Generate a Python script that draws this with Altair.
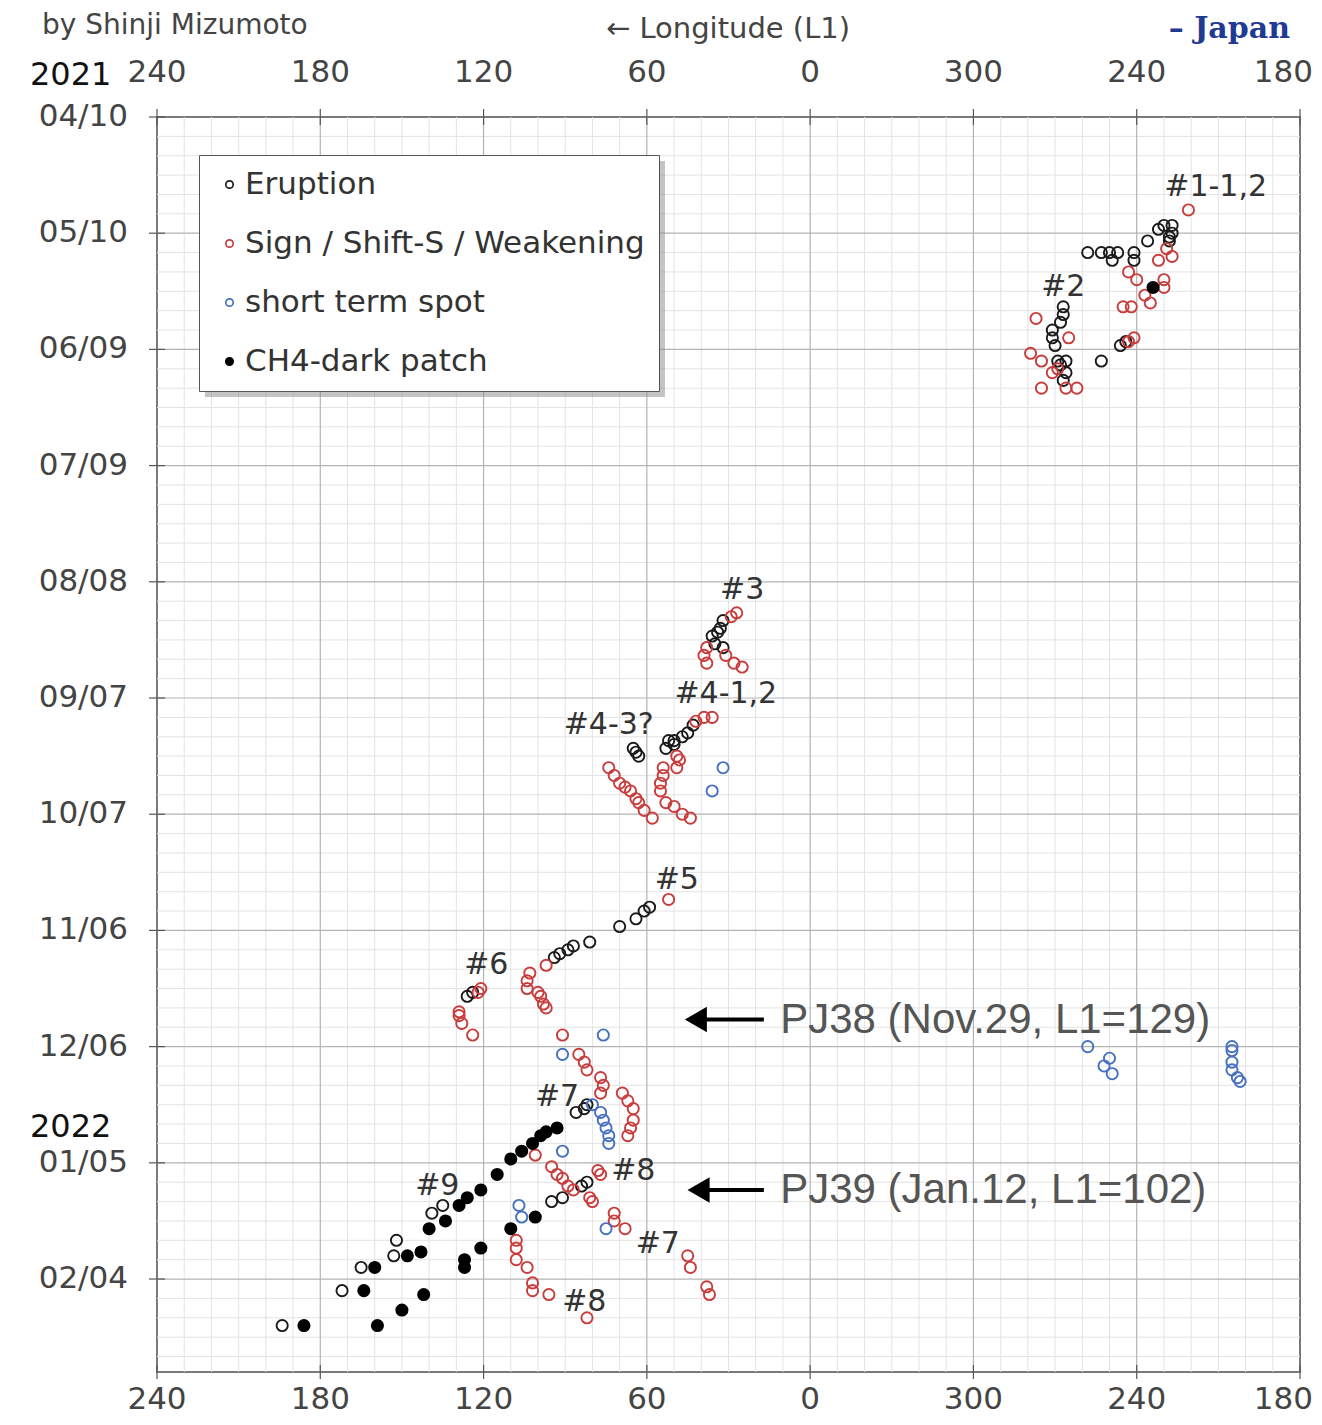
import altair as alt
import pandas as pd

# ---------------- data ----------------
# x = longitude position on the unwrapped axis (negative values are shown as value+360)
erupt_date = ["05/15","05/15","05/15","05/15","05/15","05/17","05/17","05/12","05/09","05/08",
              "05/08","05/10","05/11","05/12","06/08","06/07","06/12",
              "05/29","05/31","06/02","06/04","06/06","06/08","06/12","06/12","06/13","06/15","06/17",
              "08/18","08/20","08/21","08/22","08/24","08/25",
              "09/14","09/16","09/17","09/18","09/18","09/20","09/19",
              "09/20","09/21","09/22",
              "10/31","11/01","11/03","11/05","11/09","11/10","11/11","11/12","11/13",
              "11/23","11/22",
              "12/23","12/22","12/21",
              "01/15","01/14","01/11","01/10",
              "01/18","01/16","01/25","01/29","02/01","02/07","02/16"]
erupt_lon = [-102,-107,-110,-113,-119,-111,-119,-124,-128,-130,
             -133,-133,-132,-132,-114,-116,-107,
             -93,-93,-92,-89,-89,-90,-91,-94,-92,-94,-93,
             32,33,34,36,35,32,
             43,45,47,50,52,53,50,
             65,64,63,
             59,61,64,70,81,87,89,92,94,
             126,124,
             86,83,82,
             95,91,84,82,
             139,135,152,153,165,172,194]

sign_date = ["05/04","05/17","05/16","05/14","05/20","05/22","05/22","05/24","05/28","05/26",
             "05/29","05/29","06/06","06/07",
             "06/01","06/10","06/12","06/15","06/14","06/06","06/19","06/19","06/19",
             "08/16","08/17","08/25","08/27","08/29","08/27","08/29","08/30",
             "09/12","09/12","09/13","09/22","09/23","09/25","09/25","09/27","09/29","10/01",
             "10/04","10/05","10/07","10/08",
             "09/25","09/27","09/29","09/30","10/01","10/03","10/04","10/06","10/08",
             "10/29","11/15","11/17","11/19","11/21","11/22","11/23","11/25","11/26","12/03",
             "11/21","11/22","11/27","11/28","11/30","12/03",
             "12/08","12/10","12/12","12/14","12/16","12/18","12/18","12/20","12/22","12/25",
             "12/27","12/29",
             "01/03","01/06","01/08","01/09","01/11","01/12","01/07","01/08","01/14","01/15",
             "01/18","01/20","01/22","01/29","02/01","02/06","02/08",
             "01/25","01/27","01/30","02/01","02/05","02/07","02/08","02/14"]
sign_lon = [-139,-128,-133,-131,-117,-120,-130,-130,-125,-123,
            -115,-118,-119,-117,
            -83,-81,-85,-89,-91,-95,-85,-94,-98,
            27,29,38,39,38,31,28,25,
            36,39,42,49,48,49,54,54,55,55,
            53,50,47,44,
            74,72,70,68,66,64,63,61,58,
            52,97,103,104,104,100,99,98,97,91,
            121,122,129,129,128,124,
            85,83,82,77,76,77,69,67,65,65,
            66,67,
            101,95,93,91,89,87,78,77,81,80,
            72,72,68,45,44,38,37,
            108,108,108,104,102,102,96,82]

short_date = ["09/25","10/01","12/03","12/08","12/21","12/23","12/25","12/27","12/29","12/31",
              "01/02","01/16","01/19","01/22",
              "12/06","12/09","12/11","12/13",
              "12/06","12/07","12/10","12/12","12/14","12/15"]
short_lon = [32,36,76,91,80,77,76,75,74,74,
             91,107,106,75,
             -102,-110,-108,-111,
             -155,-155,-155,-155,-157,-158]

ch4_date = ["05/24",
            "12/27","12/28","12/29","12/31","01/02","01/04","01/08","01/12","01/14","01/16",
            "01/20","01/22","01/28","01/29","02/01","02/07","02/16","02/16","02/12","02/08",
            "01/30","02/01","01/27","01/22","01/19"]
ch4_lon = [-126,
           93,97,99,102,106,110,115,121,126,129,
           134,140,143,148,160,164,186,159,150,142,
           127,127,121,110,101]

series_names = ["Eruption", "Sign / Shift-S / Weakening", "short term spot", "CH4-dark patch"]
series_stroke = ["#1a1a1a", "#c83c3c", "#4670c0", "#000000"]
series_fill = ["transparent", "transparent", "transparent", "#000000"]

label_text = ["#1-1,2", "#2", "#3", "#4-1,2", "#4-3?", "#5", "#6", "#7", "#8", "#7", "#9", "#8"]
label_date = ["04/28", "05/24", "08/10", "09/06", "09/14", "10/24", "11/15", "12/19",
              "01/07", "01/26", "01/11", "02/10"]
label_lon = [-149, -93, 25, 31, 74, 49, 119, 93, 65, 56, 137, 83]

pj_text = ["PJ38 (Nov.29, L1=129)", "PJ39 (Jan.12, L1=102)"]
pj_date = ["11/29", "01/12"]
pj_tail = [17, 17]
pj_head = [42, 41]
pj_text_lon = [11, 11]

x_ticks = [240, 180, 120, 60, 0, -60, -120, -180]
x_tick_labels = ["240", "180", "120", "60", "0", "300", "240", "180"]
y_ticks = [0, 30, 60, 90, 120, 150, 180, 210, 240, 270, 300]
y_tick_labels = ["04/10", "05/10", "06/09", "07/09", "08/08", "09/07", "10/07",
                 "11/06", "12/06", "01/05", "02/04"]
year_text = ["2021", "2022"]
year_day = [-10.8, 260.7]


def to_day(s):
    m, d = map(int, s.split("/"))
    y = 2021 if m >= 4 else 2022
    return (pd.Timestamp(y, m, d) - pd.Timestamp(2021, 4, 10)).days


rows = []
for name, dates, lons in zip(series_names,
                             [erupt_date, sign_date, short_date, ch4_date],
                             [erupt_lon, sign_lon, short_lon, ch4_lon]):
    for d, lo in zip(dates, lons):
        rows.append({"type": name, "day": to_day(d), "x": lo})
pts = pd.DataFrame(rows)

labels_df = pd.DataFrame({"t": label_text, "day": [to_day(d) for d in label_date], "x": label_lon})
pj_df = pd.DataFrame({"t": pj_text, "day": [to_day(d) for d in pj_date],
                      "x1": pj_tail, "x2": pj_head, "xt": pj_text_lon})

minor_v = pd.DataFrame({"g": [v for v in range(-180, 241, 10) if v % 60 != 0]})
major_v = pd.DataFrame({"g": [v for v in range(-120, 240, 60)]})
minor_h = pd.DataFrame({"g": [v for v in range(5, 325, 5) if v % 30 != 0]})
major_h = pd.DataFrame({"g": [v for v in range(30, 324, 30)]})
xtick_df = pd.DataFrame({"x": x_ticks, "t": x_tick_labels})
xtick_main = xtick_df.iloc[:-1]   # centred labels
xtick_edge = xtick_df.iloc[-1:]   # right-most label, kept inside the page
ytick_df = pd.DataFrame({"day": y_ticks, "t": y_tick_labels})
year_df = pd.DataFrame({"t": year_text, "day": year_day})

W, H = 1143, 1255
FONT = "DejaVu Sans"
TICK_FS = 31
xs = alt.Scale(domain=[-180, 240], reverse=True, nice=False, zero=False)
ys = alt.Scale(domain=[0, 324], reverse=True, nice=False, zero=False)
NOX = alt.X("x:Q", scale=xs, axis=None)
NOY = alt.Y("day:Q", scale=ys, axis=None)

grid_minor_v = alt.Chart(minor_v).mark_rule(color="#e3e3e3", strokeWidth=1).encode(
    x=alt.X("g:Q", scale=xs, axis=None))
grid_minor_h = alt.Chart(minor_h).mark_rule(color="#e3e3e3", strokeWidth=1).encode(
    y=alt.Y("g:Q", scale=ys, axis=None))
grid_major_v = alt.Chart(major_v).mark_rule(color="#b3b3b3", strokeWidth=1.2).encode(
    x=alt.X("g:Q", scale=xs, axis=None))
grid_major_h = alt.Chart(major_h).mark_rule(color="#b3b3b3", strokeWidth=1.2).encode(
    y=alt.Y("g:Q", scale=ys, axis=None))

shadow = alt.Chart(pd.DataFrame({"a": [0]})).mark_rect(color="#8a8a8a", opacity=0.5).encode(
    x=alt.value(48), x2=alt.value(508), y=alt.value(44), y2=alt.value(280))

legend = alt.Legend(title=None, orient="none", legendX=42, legendY=38,
                    fillColor="white", strokeColor="#555", padding=14,
                    labelFont=FONT, labelFontSize=31, labelColor="#333", labelLimit=800,
                    rowPadding=27, symbolSize=55, symbolStrokeWidth=1.7,
                    symbolType="circle", symbolOffset=1, labelOffset=0)

points = alt.Chart(pts).mark_point(shape="circle", size=125, strokeWidth=1.9,
                                   opacity=1).encode(
    x=NOX, y=NOY,
    stroke=alt.Stroke("type:N", scale=alt.Scale(domain=series_names, range=series_stroke),
                      legend=legend),
    fill=alt.Fill("type:N", scale=alt.Scale(domain=series_names, range=series_fill),
                  legend=legend),
)

labels = alt.Chart(labels_df).mark_text(font=FONT, fontSize=30, color="#333").encode(
    x=NOX, y=NOY, text="t:N")

pj_line = alt.Chart(pj_df).mark_rule(color="black", strokeWidth=4).encode(
    x=alt.X("x1:Q", scale=xs, axis=None), x2="x2:Q", y=NOY)
pj_head_mark = alt.Chart(pj_df).mark_point(shape="triangle-left", size=650, filled=True,
                                           color="black", opacity=1).encode(
    x=alt.X("x2:Q", scale=xs, axis=None), y=NOY)
pj_label = alt.Chart(pj_df).mark_text(font="Liberation Sans", fontSize=42, color="#555",
                                      align="left", baseline="middle").encode(
    x=alt.X("xt:Q", scale=xs, axis=None), y=NOY, text="t:N")


# axis tick labels and tick marks, placed through the scales
def xlabels(df, y, align="center", dx=0):
    return alt.Chart(df).mark_text(font=FONT, fontSize=TICK_FS, color="#444",
                                   baseline="middle", align=align, dx=dx).encode(
        x=NOX, y=alt.value(y), text="t:N")


top_labels = xlabels(xtick_main, -44)
top_edge = xlabels(xtick_edge, -44, align="right", dx=13)
bottom_labels = xlabels(xtick_main, H + 28)
bottom_edge = xlabels(xtick_edge, H + 28, align="right", dx=13)
top_ticks = alt.Chart(xtick_df).mark_rule(color="#555", strokeWidth=1.2).encode(
    x=NOX, y=alt.value(-8), y2=alt.value(8))
bottom_ticks = alt.Chart(xtick_df).mark_rule(color="#555", strokeWidth=1.2).encode(
    x=NOX, y=alt.value(H - 7), y2=alt.value(H + 7))
left_labels = alt.Chart(ytick_df).mark_text(font=FONT, fontSize=TICK_FS, color="#444",
                                            align="right", baseline="middle").encode(
    x=alt.value(-29), y=NOY, text="t:N")
left_ticks = alt.Chart(ytick_df).mark_rule(color="#555", strokeWidth=1.2).encode(
    x=alt.value(-8), x2=alt.value(8), y=NOY)

year_labels = alt.Chart(year_df).mark_text(font=FONT, fontSize=32, color="#111", align="left",
                                           baseline="middle").encode(
    x=alt.value(-127), y=NOY, text="t:N")


def header(t, x, y, size, color, align="left", font=FONT, weight="normal", baseline="middle"):
    return alt.Chart(pd.DataFrame({"t": [t]})).mark_text(
        font=font, fontSize=size, color=color, align=align, baseline=baseline,
        fontWeight=weight).encode(x=alt.value(x), y=alt.value(y), text="t:N")


by_text = header("by Shinji Mizumoto", -115, -91, 28, "#444")
lon_text = header("\u2190 Longitude (L1)", 571, -88, 29, "#444", align="center")
japan_text = header("\u2013 Japan", 1133, -79, 30, "#1f3a93", align="right",
                    font="DejaVu Serif", weight="bold", baseline="alphabetic")

chart = alt.layer(
    grid_minor_v, grid_minor_h, grid_major_v, grid_major_h,
    points, labels, pj_line, pj_head_mark, pj_label,
    top_ticks, bottom_ticks, left_ticks, top_labels, top_edge, bottom_labels, bottom_edge,
    left_labels, year_labels, by_text, lon_text, japan_text, shadow,
).properties(
    width=W, height=H,
    autosize=alt.AutoSizeParams(type="none"),
    padding={"left": 149, "top": 109, "right": 14, "bottom": 45},
).configure_view(stroke="#7a7a7a", strokeWidth=2)

chart.save("out.html", embed_options={"renderer": "svg", "actions": False})
